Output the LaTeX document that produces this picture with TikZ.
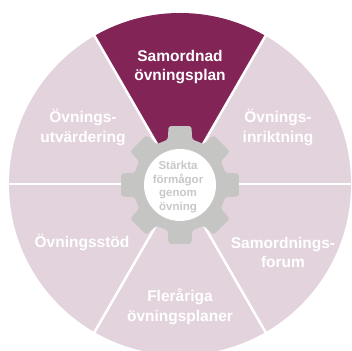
\documentclass[tikz,border=0pt]{standalone}
\usepackage{fontspec}
\setmainfont{Liberation Sans}
\definecolor{pinkbg}{HTML}{E3D3DC}
\definecolor{plum}{HTML}{832457}
\definecolor{gearg}{HTML}{C5C5C3}
\definecolor{ctext}{HTML}{C8C8C8}
\begin{document}
\begin{tikzpicture}[x=1pt,y=1pt,
  seclabel/.style={align=center, text=white, font=\bfseries\fontsize{15.5}{19.5}\selectfont, inner sep=0pt},
  centerlabel/.style={align=center, text=ctext, font=\bfseries\fontsize{11.5}{13.5}\selectfont, inner sep=0pt},
  divider/.style={white, line width=2.5pt}]
\useasboundingbox (0,0) rectangle (352,350);
\clip (0,0) rectangle (352,350);
\coordinate (O) at (180,166);
\coordinate (G) at (180,165);
% wheel
\fill[pinkbg] (O) circle[radius=171pt];
\fill[plum] (O) -- ++(60:171pt) arc[start angle=60, end angle=120, radius=171pt] -- cycle;
\foreach \a in {0,60,...,300} \draw[divider] (O) -- ++(\a:180pt);
% gear
\begin{scope}[shift={(G)}]
\fill[gearg, rounded corners=2.5pt] (67.5:47pt)
  \foreach \a in {90,135,...,405} { -- (\a-15:47pt) -- (\a-11:60pt) -- (\a+11:60pt) -- (\a+15:47pt) } -- cycle;
\end{scope}
\fill[white] (G) circle[radius=36pt];
% labels
\node[seclabel] (top) at (180,283) {Samordnad\\övningsplan};
\node[seclabel] (ul) at (83,222.5) {Övnings-\\utvärdering};
\node[seclabel] (ur) at (278,222.5) {Övnings-\\inriktning};
\node[seclabel] (lr) at (283,97.5) {Samordnings-\\forum};
\node[seclabel] (bot) at (180,43) {Fleråriga\\övningsplaner};
\node[seclabel] (ll) at (82,107) {Övningsstöd};
\node[centerlabel] (mid) at (178,163) {Stärkta\\förmågor\\genom\\övning};
\end{tikzpicture}
\end{document}
